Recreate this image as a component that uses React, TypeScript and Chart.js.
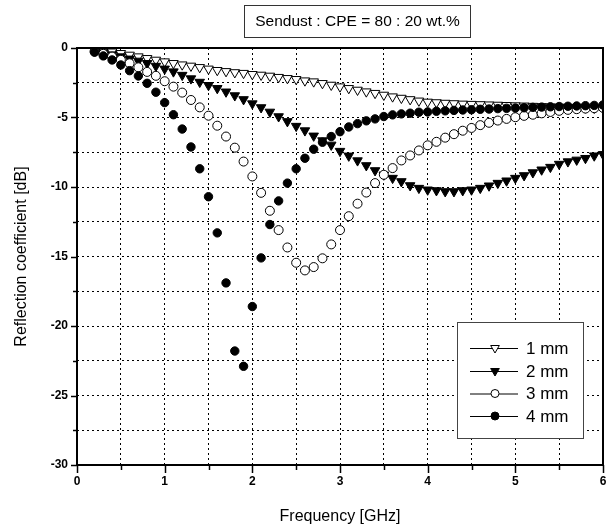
import React, { useEffect, useRef } from "react";
import { Chart, registerables } from "chart.js";

Chart.register(...registerables);

const freq = [
  0.2, 0.3, 0.4, 0.5, 0.6, 0.7, 0.8, 0.9, 1.0, 1.1,
  1.2, 1.3, 1.4, 1.5, 1.6, 1.7, 1.8, 1.9, 2.0, 2.1,
  2.2, 2.3, 2.4, 2.5, 2.6, 2.7, 2.8, 2.9, 3.0, 3.1,
  3.2, 3.3, 3.4, 3.5, 3.6, 3.7, 3.8, 3.9, 4.0, 4.1,
  4.2, 4.3, 4.4, 4.5, 4.6, 4.7, 4.8, 4.9, 5.0, 5.1,
  5.2, 5.3, 5.4, 5.5, 5.6, 5.7, 5.8, 5.9, 6.0,
];

const rc1mm = [
  -0.1, -0.18, -0.27, -0.38, -0.5, -0.62, -0.74, -0.86, -0.98, -1.1,
  -1.2, -1.29, -1.39, -1.5, -1.6, -1.68, -1.76, -1.81, -1.89, -1.94,
  -2.01, -2.1, -2.18, -2.25, -2.35, -2.42, -2.54, -2.66, -2.78, -2.9,
  -3.02, -3.14, -3.25, -3.38, -3.5, -3.6, -3.7, -3.8, -3.88, -3.92,
  -3.96, -3.99, -4.02, -4.04, -4.06, -4.08, -4.1, -4.12, -4.14, -4.16,
  -4.18, -4.2, -4.22, -4.24, -4.26, -4.28, -4.3, -4.32, -4.34,
];

const rc2mm = [
  -0.2, -0.33, -0.48, -0.62, -0.78, -0.93, -1.1, -1.3, -1.5, -1.7,
  -1.95, -2.2, -2.45, -2.68, -2.9, -3.15, -3.42, -3.7, -4.0, -4.28,
  -4.6, -4.93, -5.28, -5.62, -5.94, -6.32, -6.66, -6.97, -7.42, -7.76,
  -8.1, -8.45, -8.81, -9.12, -9.36, -9.6, -9.89, -10.08, -10.2, -10.25,
  -10.32, -10.32, -10.25, -10.2, -10.08, -9.91, -9.72, -9.55, -9.36, -9.17,
  -8.96, -8.76, -8.57, -8.35, -8.17, -8.05, -7.93, -7.75, -7.65,
];

const rc3mm = [
  -0.25, -0.42, -0.62, -0.85, -1.1, -1.39, -1.72, -2.0, -2.39, -2.78,
  -3.21, -3.74, -4.27, -4.87, -5.59, -6.37, -7.17, -8.17, -9.24, -10.42,
  -11.71, -13.1, -14.35, -15.45, -16.0, -15.76, -15.13, -14.13, -13.1, -12.1,
  -11.2, -10.4, -9.72, -9.12, -8.64, -8.09, -7.73, -7.37, -7.0, -6.75,
  -6.45, -6.2, -5.95, -5.75, -5.55, -5.38, -5.22, -5.1, -4.98, -4.88,
  -4.8, -4.7, -4.6, -4.52, -4.45, -4.4, -4.36, -4.33, -4.3,
];

const rc4mm = [
  -0.3, -0.57, -0.86, -1.22, -1.63, -2.01, -2.54, -3.18, -3.93, -4.8,
  -5.83, -7.12, -8.69, -10.7, -13.3, -16.9, -21.8, -22.9, -18.6, -15.1,
  -12.7, -11.0, -9.72, -8.69, -7.93, -7.28, -6.78, -6.37, -6.02, -5.68,
  -5.44, -5.24, -5.1, -4.93, -4.81, -4.74, -4.69, -4.62, -4.6, -4.55,
  -4.52, -4.49, -4.46, -4.44, -4.41, -4.39, -4.36, -4.34, -4.32, -4.3,
  -4.27, -4.25, -4.23, -4.21, -4.19, -4.17, -4.15, -4.13, -4.1,
];

const seriesLabels = ["1 mm", "2 mm", "3 mm", "4 mm"];
const titleText = "Sendust : CPE = 80 : 20 wt.%";
const xTitle = "Frequency [GHz]";
const yTitle = "Reflection coefficient [dB]";

const FONT = 'Arial, "Liberation Sans", sans-serif';

type MarkerKind = "triOpen" | "triFilled" | "circOpen" | "circFilled";
const markerKinds: MarkerKind[] = ["triOpen", "triFilled", "circOpen", "circFilled"];

function drawMarker(ctx: CanvasRenderingContext2D, kind: MarkerKind, x: number, y: number, r: number) {
  ctx.save();
  ctx.lineWidth = 1;
  ctx.strokeStyle = "#000";
  ctx.beginPath();
  if (kind === "triOpen" || kind === "triFilled") {
    for (let i = 0; i < 3; i++) {
      const a = Math.PI + (i * 2 * Math.PI) / 3;
      const px = x + Math.sin(a) * r;
      const py = y - Math.cos(a) * r;
      if (i === 0) ctx.moveTo(px, py);
      else ctx.lineTo(px, py);
    }
    ctx.closePath();
  } else {
    ctx.arc(x, y, r, 0, Math.PI * 2);
  }
  ctx.fillStyle = kind === "triFilled" || kind === "circFilled" ? "#000" : "#fff";
  ctx.fill();
  ctx.stroke();
  ctx.restore();
}

const decorPlugin = {
  id: "decor",
  afterDraw(chart: any) {
    const { ctx, chartArea } = chart;
    const xs = chart.scales.x;
    const ys = chart.scales.y;
    ctx.save();
    ctx.strokeStyle = "#000";
    ctx.lineWidth = 2;
    ctx.strokeRect(chartArea.left, chartArea.top, chartArea.right - chartArea.left, chartArea.bottom - chartArea.top);
    ctx.lineWidth = 1.5;
    for (let i = 0; i <= 12; i++) {
      const v = i * 0.5;
      const px = Math.round(xs.getPixelForValue(v)) + 0.5;
      const len = i % 2 === 0 ? 8 : 5;
      ctx.beginPath();
      ctx.moveTo(px, chartArea.bottom);
      ctx.lineTo(px, chartArea.bottom + len);
      ctx.stroke();
    }
    for (let i = 0; i <= 12; i++) {
      const v = -i * 2.5;
      const py = Math.round(ys.getPixelForValue(v)) + 0.5;
      const len = i % 2 === 0 ? 6 : 4;
      ctx.beginPath();
      ctx.moveTo(chartArea.left, py);
      ctx.lineTo(chartArea.left - len, py);
      ctx.stroke();
    }
    ctx.lineWidth = 1;
    ctx.strokeStyle = "#333";
    ctx.fillStyle = "#fff";
    ctx.fillRect(244.5, 5.5, 226, 32);
    ctx.strokeRect(244.5, 5.5, 226, 32);
    ctx.fillStyle = "#000";
    ctx.font = `15.5px ${FONT}`;
    ctx.textAlign = "center";
    ctx.textBaseline = "middle";
    ctx.fillText(titleText, 357.5, 22);
    const lx = 457.5, ly = 322.5, lw = 126, lh = 116;
    ctx.fillStyle = "#fff";
    ctx.fillRect(lx, ly, lw, lh);
    ctx.strokeStyle = "#444";
    ctx.strokeRect(lx, ly, lw, lh);
    const rows = [348, 371, 393.5, 416];
    ctx.font = `17px ${FONT}`;
    ctx.textAlign = "left";
    for (let i = 0; i < 4; i++) {
      const ry = rows[i];
      ctx.strokeStyle = "#000";
      ctx.lineWidth = 1;
      ctx.beginPath();
      ctx.moveTo(470, ry + 0.5);
      ctx.lineTo(518, ry + 0.5);
      ctx.stroke();
      const k = markerKinds[i];
      drawMarker(ctx, k, 495, ry, k.startsWith("tri") ? 5 : 4);
      ctx.fillStyle = "#000";
      ctx.fillText(seriesLabels[i], 526, ry + 1);
    }
    ctx.restore();
  },
};

export default function App() {
  const ref = useRef<HTMLCanvasElement | null>(null);
  useEffect(() => {
    if (!ref.current) return;
    const mk = (vals: number[]) => freq.map((f, i) => ({ x: f, y: vals[i] }));
    const chart = new Chart(ref.current, {
      type: "scatter",
      data: {
        datasets: [
          { label: seriesLabels[0], data: mk(rc1mm), pointStyle: "triangle", rotation: 180, pointRadius: 5.5, backgroundColor: "#fff", borderColor: "#000", borderWidth: 1, order: 4 },
          { label: seriesLabels[1], data: mk(rc2mm), pointStyle: "triangle", rotation: 180, pointRadius: 5.5, backgroundColor: "#000", borderColor: "#000", borderWidth: 1, order: 3 },
          { label: seriesLabels[2], data: mk(rc3mm), pointStyle: "circle", pointRadius: 4.5, backgroundColor: "#fff", borderColor: "#000", borderWidth: 1, order: 2 },
          { label: seriesLabels[3], data: mk(rc4mm), pointStyle: "circle", pointRadius: 4.2, backgroundColor: "#000", borderColor: "#000", borderWidth: 1, order: 1 },
        ],
      },
      options: {
        animation: false,
        responsive: false,
        maintainAspectRatio: false,
        layout: { padding: { top: 48, right: 8, left: 0, bottom: 0 } },
        plugins: {
          legend: { display: false },
          tooltip: { enabled: false },
          title: { display: false },
        },
        scales: {
          x: {
            type: "linear",
            min: 0,
            max: 6,
            afterFit: (s: any) => { s.height = 66; s.paddingLeft = 0; s.paddingRight = 0; },
            ticks: {
              stepSize: 0.5,
              autoSkip: false,
              maxRotation: 0,
              padding: 9,
              color: "#000",
              font: { family: FONT, size: 12, weight: "bold" },
              callback: (v: any) => (Math.abs(v - Math.round(v)) < 1e-6 ? String(Math.round(v)) : ""),
            },
            grid: { color: "#000", lineWidth: 1, drawTicks: false },
            border: { display: false, dash: [2, 3] },
            title: { display: true, text: xTitle, color: "#000", font: { family: FONT, size: 16 }, padding: { top: 0, bottom: 5 } },
          },
          y: {
            type: "linear",
            min: -30,
            max: 0,
            afterFit: (s: any) => { s.width = 77; s.paddingTop = 0; s.paddingBottom = 0; },
            ticks: {
              stepSize: 2.5,
              autoSkip: false,
              padding: 9,
              color: "#000",
              font: { family: FONT, size: 12, weight: "bold" },
              callback: (v: any) => (Math.abs(v / 5 - Math.round(v / 5)) < 1e-6 ? String(Math.round(v)) : ""),
            },
            grid: { color: "#000", lineWidth: 1, drawTicks: false },
            border: { display: false, dash: [2, 3] },
            title: { display: true, text: yTitle, color: "#000", font: { family: FONT, size: 16 }, padding: { top: 12, bottom: 0 } },
          },
        },
      },
      plugins: [decorPlugin],
    } as any);
    return () => chart.destroy();
  }, []);
  return (
    <div style={{ position: "fixed", left: 0, top: 0, width: 611, height: 531, background: "#fff" }}>
      <canvas ref={ref} width={611} height={531} style={{ display: "block", width: 611, height: 531 }} />
    </div>
  );
}
